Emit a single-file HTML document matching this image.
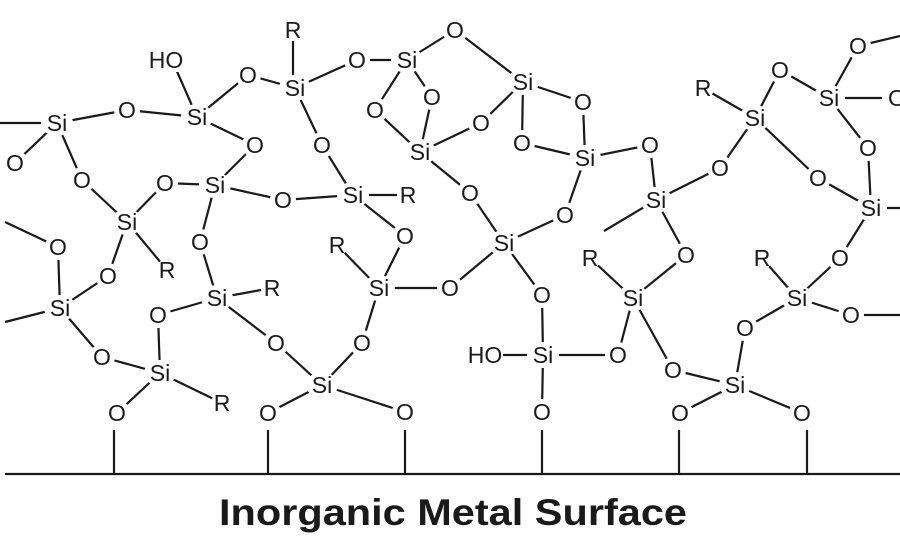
<!DOCTYPE html>
<html><head><meta charset="utf-8"><style>
html,body{margin:0;padding:0;background:#fff;width:900px;height:550px;overflow:hidden}
svg{display:block}
text{font-family:"Liberation Sans",Arial,sans-serif;fill:#1a1a1a}
</style></head><body>
<svg width="900" height="550" viewBox="0 0 900 550" xmlns="http://www.w3.org/2000/svg">
<g stroke="#1a1a1a" stroke-width="2.2" fill="none">
<line x1="0" y1="123" x2="57" y2="123"/>
<line x1="57" y1="123" x2="127" y2="110"/>
<line x1="57" y1="123" x2="15" y2="163"/>
<line x1="57" y1="123" x2="82" y2="180"/>
<line x1="127" y1="110" x2="197" y2="117"/>
<line x1="197" y1="117" x2="172" y2="60"/>
<line x1="197" y1="117" x2="248" y2="75"/>
<line x1="197" y1="117" x2="255" y2="145"/>
<line x1="248" y1="75" x2="295" y2="88"/>
<line x1="293" y1="30" x2="293" y2="88"/>
<line x1="295" y1="88" x2="357" y2="60"/>
<line x1="295" y1="88" x2="322" y2="145"/>
<line x1="357" y1="60" x2="407" y2="60"/>
<line x1="407" y1="60" x2="455" y2="30"/>
<line x1="455" y1="30" x2="523" y2="82"/>
<line x1="407" y1="60" x2="375" y2="110"/>
<line x1="407" y1="60" x2="432" y2="97"/>
<line x1="375" y1="110" x2="420" y2="152"/>
<line x1="432" y1="97" x2="420" y2="152"/>
<line x1="420" y1="152" x2="481" y2="123"/>
<line x1="420" y1="152" x2="470" y2="193"/>
<line x1="481" y1="123" x2="523" y2="82"/>
<line x1="523" y1="82" x2="583" y2="102"/>
<line x1="523" y1="82" x2="522" y2="143"/>
<line x1="583" y1="102" x2="585" y2="158"/>
<line x1="522" y1="143" x2="585" y2="158"/>
<line x1="585" y1="158" x2="650" y2="145"/>
<line x1="585" y1="158" x2="565" y2="215"/>
<line x1="650" y1="145" x2="656" y2="200"/>
<line x1="565" y1="215" x2="504" y2="243"/>
<line x1="470" y1="193" x2="504" y2="243"/>
<line x1="504" y1="243" x2="450" y2="288"/>
<line x1="504" y1="243" x2="542" y2="295"/>
<line x1="656" y1="200" x2="604" y2="231"/>
<line x1="656" y1="200" x2="686" y2="255"/>
<line x1="656" y1="200" x2="720" y2="168"/>
<line x1="720" y1="168" x2="755" y2="118"/>
<line x1="755" y1="118" x2="703" y2="88"/>
<line x1="755" y1="118" x2="780" y2="70"/>
<line x1="755" y1="118" x2="818" y2="178"/>
<line x1="780" y1="70" x2="829" y2="98"/>
<line x1="829" y1="98" x2="858" y2="46"/>
<line x1="858" y1="46" x2="900" y2="36"/>
<line x1="829" y1="98" x2="900" y2="98"/>
<line x1="829" y1="98" x2="868" y2="148"/>
<line x1="868" y1="148" x2="871" y2="208"/>
<line x1="818" y1="178" x2="871" y2="208"/>
<line x1="871" y1="208" x2="900" y2="208"/>
<line x1="871" y1="208" x2="840" y2="258"/>
<line x1="840" y1="258" x2="797" y2="298"/>
<line x1="797" y1="298" x2="762" y2="258"/>
<line x1="797" y1="298" x2="851" y2="315"/>
<line x1="851" y1="315" x2="900" y2="315"/>
<line x1="797" y1="298" x2="745" y2="328"/>
<line x1="745" y1="328" x2="735" y2="385"/>
<line x1="735" y1="385" x2="673" y2="370"/>
<line x1="735" y1="385" x2="680" y2="413"/>
<line x1="735" y1="385" x2="802" y2="413"/>
<line x1="673" y1="370" x2="633" y2="298"/>
<line x1="633" y1="298" x2="590" y2="258"/>
<line x1="633" y1="298" x2="686" y2="255"/>
<line x1="633" y1="298" x2="618" y2="355"/>
<line x1="618" y1="355" x2="543" y2="355"/>
<line x1="543" y1="355" x2="485" y2="355"/>
<line x1="543" y1="355" x2="542" y2="295"/>
<line x1="543" y1="355" x2="542" y2="412"/>
<line x1="82" y1="180" x2="127" y2="222"/>
<line x1="127" y1="222" x2="165" y2="183"/>
<line x1="165" y1="183" x2="215" y2="185"/>
<line x1="215" y1="185" x2="255" y2="145"/>
<line x1="215" y1="185" x2="283" y2="200"/>
<line x1="215" y1="185" x2="200" y2="242"/>
<line x1="283" y1="200" x2="353" y2="195"/>
<line x1="353" y1="195" x2="408" y2="195"/>
<line x1="353" y1="195" x2="322" y2="145"/>
<line x1="353" y1="195" x2="405" y2="236"/>
<line x1="405" y1="236" x2="379" y2="288"/>
<line x1="127" y1="222" x2="108" y2="276"/>
<line x1="127" y1="222" x2="167" y2="270"/>
<line x1="5" y1="222" x2="58" y2="247"/>
<line x1="58" y1="247" x2="60" y2="308"/>
<line x1="108" y1="276" x2="60" y2="308"/>
<line x1="5" y1="322" x2="60" y2="308"/>
<line x1="60" y1="308" x2="102" y2="357"/>
<line x1="102" y1="357" x2="160" y2="373"/>
<line x1="160" y1="373" x2="158" y2="315"/>
<line x1="158" y1="315" x2="217" y2="298"/>
<line x1="200" y1="242" x2="217" y2="298"/>
<line x1="217" y1="298" x2="272" y2="288"/>
<line x1="217" y1="298" x2="276" y2="343"/>
<line x1="276" y1="343" x2="322" y2="385"/>
<line x1="322" y1="385" x2="268" y2="413"/>
<line x1="322" y1="385" x2="405" y2="412"/>
<line x1="322" y1="385" x2="362" y2="343"/>
<line x1="362" y1="343" x2="379" y2="288"/>
<line x1="379" y1="288" x2="337" y2="245"/>
<line x1="379" y1="288" x2="450" y2="288"/>
<line x1="160" y1="373" x2="222" y2="403"/>
<line x1="160" y1="373" x2="117" y2="413"/>
<line x1="5" y1="474" x2="900" y2="474"/>
<line x1="114" y1="430" x2="114" y2="474"/>
<line x1="268" y1="430" x2="268" y2="474"/>
<line x1="405" y1="430" x2="405" y2="474"/>
<line x1="542" y1="430" x2="542" y2="474"/>
<line x1="679" y1="430" x2="679" y2="474"/>
<line x1="807" y1="430" x2="807" y2="474"/>
</g>
<g fill="#fff">
<circle cx="15" cy="163" r="13"/><circle cx="127" cy="110" r="13"/><circle cx="248" cy="75" r="13"/>
<circle cx="357" cy="60" r="13"/><circle cx="455" cy="30" r="13"/><circle cx="375" cy="110" r="13"/>
<circle cx="432" cy="97" r="13"/><circle cx="481" cy="123" r="13"/><circle cx="583" cy="102" r="13"/>
<circle cx="522" cy="143" r="13"/><circle cx="650" cy="145" r="13"/><circle cx="565" cy="215" r="13"/>
<circle cx="470" cy="193" r="13"/><circle cx="450" cy="288" r="13"/><circle cx="542" cy="295" r="13"/>
<circle cx="686" cy="255" r="13"/><circle cx="720" cy="168" r="13"/><circle cx="780" cy="70" r="13"/>
<circle cx="858" cy="46" r="13"/><circle cx="895" cy="98" r="13"/><circle cx="868" cy="148" r="13"/>
<circle cx="818" cy="178" r="13"/><circle cx="840" cy="258" r="13"/><circle cx="851" cy="315" r="13"/>
<circle cx="745" cy="328" r="13"/><circle cx="673" cy="370" r="13"/><circle cx="680" cy="413" r="13"/>
<circle cx="802" cy="413" r="13"/><circle cx="618" cy="355" r="13"/><circle cx="542" cy="412" r="13"/>
<circle cx="82" cy="180" r="13"/><circle cx="165" cy="183" r="13"/><circle cx="255" cy="145" r="13"/>
<circle cx="283" cy="200" r="13"/><circle cx="322" cy="145" r="13"/><circle cx="405" cy="236" r="13"/>
<circle cx="200" cy="242" r="13"/><circle cx="58" cy="247" r="13"/><circle cx="108" cy="276" r="13"/>
<circle cx="102" cy="357" r="13"/><circle cx="158" cy="315" r="13"/><circle cx="276" cy="343" r="13"/>
<circle cx="268" cy="413" r="13"/><circle cx="405" cy="412" r="13"/><circle cx="362" cy="343" r="13"/>
<circle cx="117" cy="413" r="13"/>
<ellipse cx="57" cy="123" rx="16" ry="13"/><ellipse cx="197" cy="117" rx="16" ry="13"/><ellipse cx="295" cy="88" rx="16" ry="13"/>
<ellipse cx="407" cy="60" rx="16" ry="13"/><ellipse cx="420" cy="152" rx="16" ry="13"/><ellipse cx="523" cy="82" rx="16" ry="13"/>
<ellipse cx="585" cy="158" rx="16" ry="13"/><ellipse cx="504" cy="243" rx="16" ry="13"/><ellipse cx="656" cy="200" rx="16" ry="13"/>
<ellipse cx="755" cy="118" rx="16" ry="13"/><ellipse cx="829" cy="98" rx="16" ry="13"/><ellipse cx="871" cy="208" rx="16" ry="13"/>
<ellipse cx="797" cy="298" rx="16" ry="13"/><ellipse cx="735" cy="385" rx="16" ry="13"/><ellipse cx="633" cy="298" rx="16" ry="13"/>
<ellipse cx="543" cy="355" rx="16" ry="13"/><ellipse cx="127" cy="222" rx="16" ry="13"/><ellipse cx="215" cy="185" rx="16" ry="13"/>
<ellipse cx="353" cy="195" rx="16" ry="13"/><ellipse cx="379" cy="288" rx="16" ry="13"/><ellipse cx="60" cy="308" rx="16" ry="13"/>
<ellipse cx="160" cy="373" rx="16" ry="13"/><ellipse cx="217" cy="298" rx="16" ry="13"/><ellipse cx="322" cy="385" rx="16" ry="13"/>
<rect x="150" y="48" width="34" height="24"/><rect x="467" y="343" width="36" height="24"/>
<circle cx="293" cy="30" r="11"/><circle cx="703" cy="88" r="11"/><circle cx="408" cy="195" r="11"/>
<circle cx="167" cy="270" r="11"/><circle cx="272" cy="288" r="11"/><circle cx="337" cy="245" r="11"/>
<circle cx="222" cy="403" r="11"/><circle cx="590" cy="258" r="11"/><circle cx="762" cy="258" r="11"/>
</g>
<g font-size="23" text-anchor="middle">
<text x="15" y="171">O</text><text x="127" y="118">O</text><text x="248" y="83">O</text>
<text x="357" y="68">O</text><text x="455" y="38">O</text><text x="375" y="118">O</text>
<text x="432" y="105">O</text><text x="481" y="131">O</text><text x="583" y="110">O</text>
<text x="522" y="151">O</text><text x="650" y="153">O</text><text x="565" y="223">O</text>
<text x="470" y="201">O</text><text x="450" y="296">O</text><text x="542" y="303">O</text>
<text x="686" y="263">O</text><text x="720" y="176">O</text><text x="780" y="78">O</text>
<text x="858" y="54">O</text><text x="897" y="106">O</text><text x="868" y="156">O</text>
<text x="818" y="186">O</text><text x="840" y="266">O</text><text x="851" y="323">O</text>
<text x="745" y="336">O</text><text x="673" y="378">O</text><text x="680" y="421">O</text>
<text x="802" y="421">O</text><text x="618" y="363">O</text><text x="542" y="420">O</text>
<text x="82" y="188">O</text><text x="165" y="191">O</text><text x="255" y="153">O</text>
<text x="283" y="208">O</text><text x="322" y="153">O</text><text x="405" y="244">O</text>
<text x="200" y="250">O</text><text x="58" y="255">O</text><text x="108" y="284">O</text>
<text x="102" y="365">O</text><text x="158" y="323">O</text><text x="276" y="351">O</text>
<text x="268" y="421">O</text><text x="405" y="420">O</text><text x="362" y="351">O</text>
<text x="117" y="421">O</text>
<text x="57" y="131">Si</text><text x="197" y="125">Si</text><text x="295" y="96">Si</text>
<text x="407" y="68">Si</text><text x="420" y="160">Si</text><text x="523" y="90">Si</text>
<text x="585" y="166">Si</text><text x="504" y="251">Si</text><text x="656" y="208">Si</text>
<text x="755" y="126">Si</text><text x="829" y="106">Si</text><text x="871" y="216">Si</text>
<text x="797" y="306">Si</text><text x="735" y="393">Si</text><text x="633" y="306">Si</text>
<text x="543" y="363">Si</text><text x="127" y="230">Si</text><text x="215" y="193">Si</text>
<text x="353" y="203">Si</text><text x="379" y="296">Si</text><text x="60" y="316">Si</text>
<text x="160" y="381">Si</text><text x="217" y="306">Si</text><text x="322" y="393">Si</text>
<text x="166" y="68">HO</text><text x="485" y="363">HO</text>
<text x="293" y="38">R</text><text x="703" y="96">R</text><text x="408" y="203">R</text>
<text x="167" y="278">R</text><text x="272" y="296">R</text><text x="337" y="253">R</text>
<text x="222" y="411">R</text><text x="590" y="266">R</text><text x="762" y="266">R</text>
</g>
<text x="453" y="525" font-size="37" font-weight="bold" text-anchor="middle" textLength="468" lengthAdjust="spacingAndGlyphs">Inorganic Metal Surface</text>
</svg>
</body></html>
